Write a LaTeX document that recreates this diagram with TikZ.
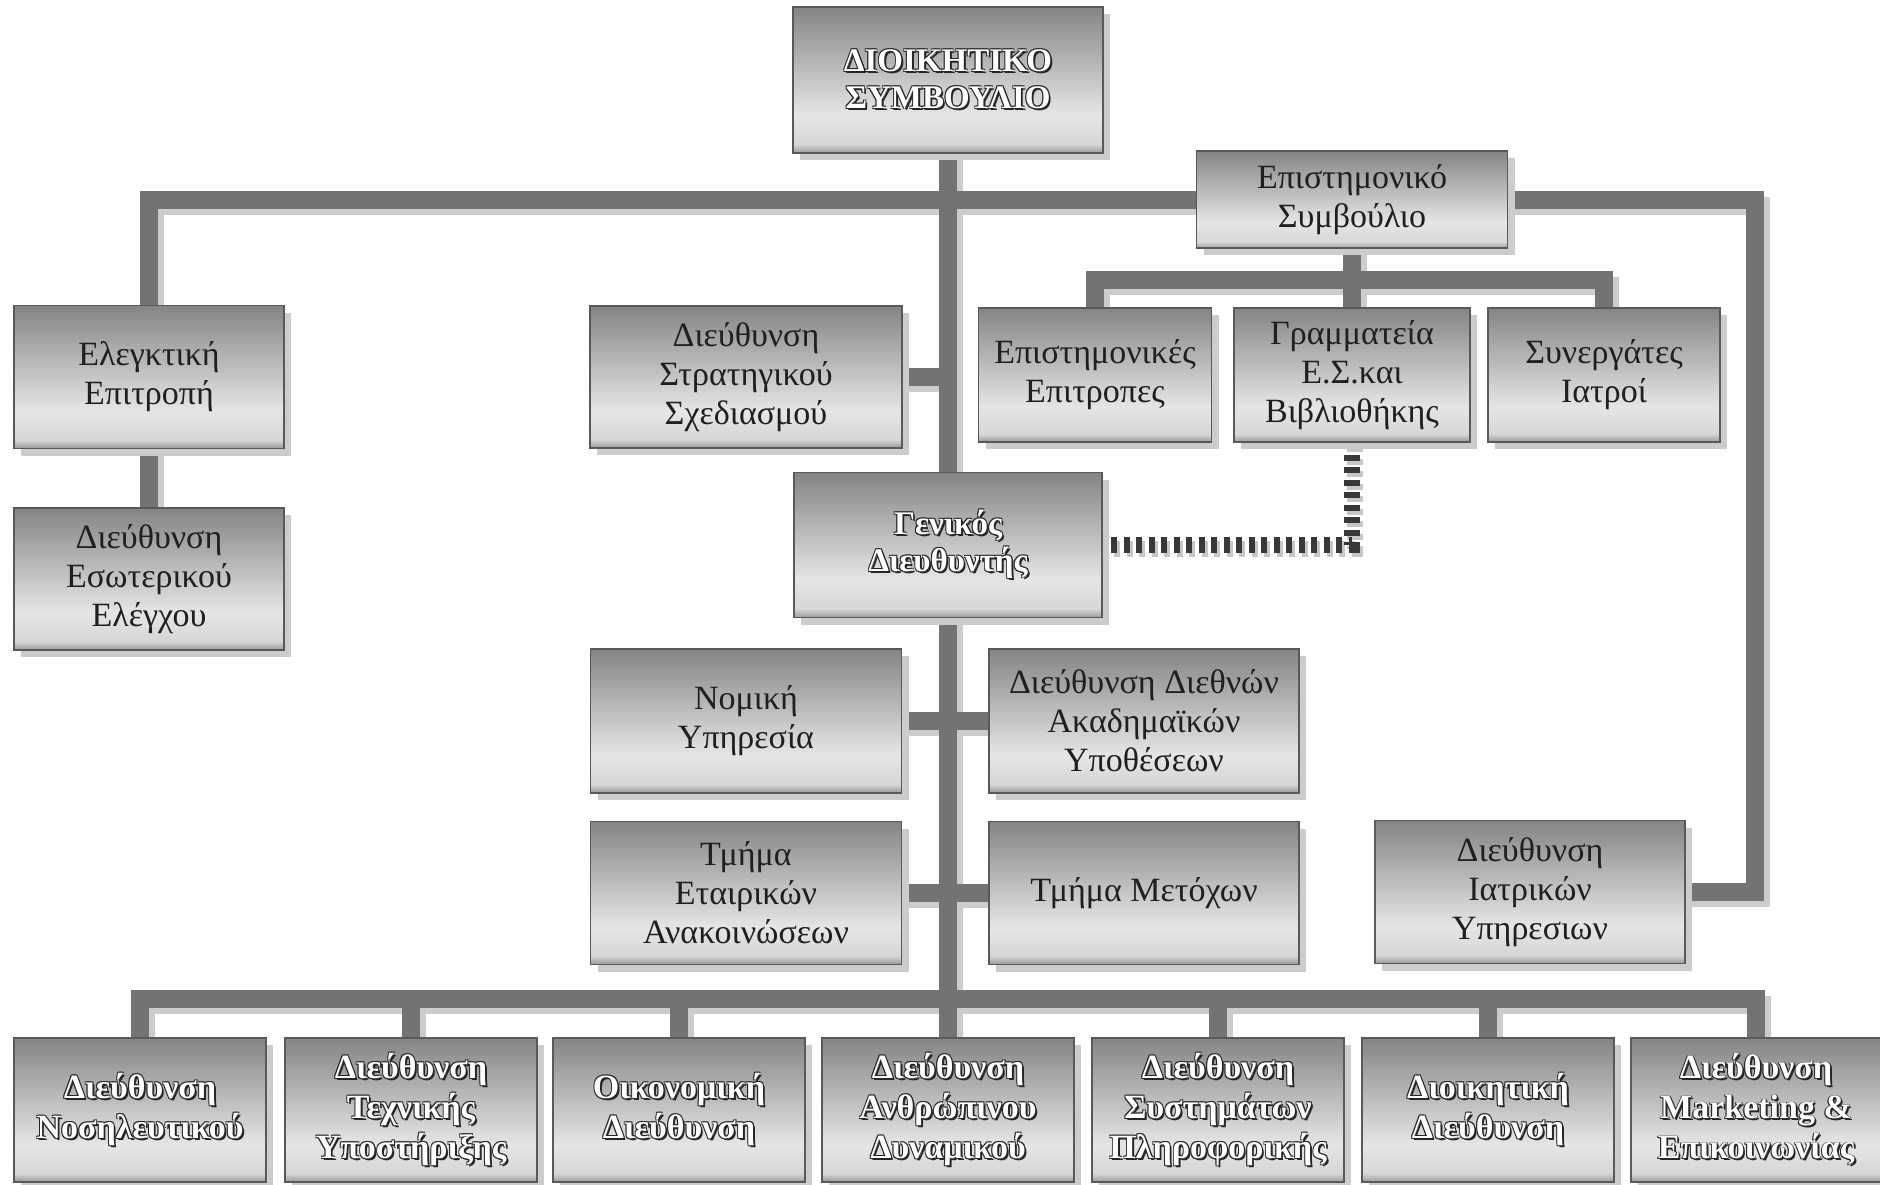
\documentclass[tikz,border=0pt]{standalone}
\usepackage{fontspec}
\setmainfont{Liberation Serif}
\usetikzlibrary{shadows}
\pgfdeclareverticalshading{boxsh}{100bp}{color(0bp)=(black!40); color(25bp)=(black!40); color(28bp)=(black!16); color(38bp)=(black!10); color(75bp)=(black!48); color(100bp)=(black!48)}
\newcommand{\embx}[1]{\leavevmode\rlap{\color{black!85}\kern1.9pt\raisebox{-1.9pt}{#1}}\rlap{\color{black!85}\kern-0.9pt\raisebox{0.9pt}{#1}}\rlap{\color{black!85}\kern0.9pt\raisebox{0.9pt}{#1}}\rlap{\color{black!85}\kern-0.9pt\raisebox{-0.9pt}{#1}}{\color{white}#1}}
\tikzset{
  box/.style={draw=black!65, line width=1.6pt, shade, shading=boxsh,
    drop shadow={shadow xshift=7pt, shadow yshift=-7pt, fill=black!20, opacity=1},
    inner sep=0pt, align=center, text=black!88,
    font=\fontsize{34}{39}\selectfont},
  bbox/.style={box, font=\bfseries\fontsize{33}{37}\selectfont},
  bboxlow/.style={box, font=\bfseries\fontsize{34}{40}\selectfont},
  conn/.style={line width=18pt, draw=black!55},
  connsh/.style={line width=18pt, draw=black!20, transform canvas={xshift=6pt,yshift=-6pt}},
  dotconn/.style={line width=16pt, draw=black!78, dash pattern=on 6pt off 6.5pt},
  dotconnsh/.style={line width=16pt, draw=black!22, dash pattern=on 6pt off 6.5pt, transform canvas={xshift=3pt,yshift=-4pt}},
  anchorbox/.style={inner sep=0pt},
}
\newcommand{\allconns}[1]{%
  \draw[#1] (dsb.south) -- (gd.north);
  \draw[#1] (gd.south) -- (b4.north);
  \draw[#1] (elegk.north) |- (epist.west);
  \draw[#1] (elegk.south) -- (esot.north);
  \draw[#1] (epist.east) -- (loopc) |- (iatr.east);
  \draw[#1] (epist.south) -- (gram.north);
  \draw[#1] (epit.north) |- (subY) -| (syn.north);
  \draw[#1] (strat.east) -- (strat.east -| gd.north);
  \draw[#1] (nom.east) -- (dieth.west);
  \draw[#1] (etair.east) -- (meto.west);
  \draw[#1] (b1.north) |- (b7.north |- barY) -- (b7.north);
  \draw[#1] (b2.north) -- (b2.north |- barY);
  \draw[#1] (b3.north) -- (b3.north |- barY);
  \draw[#1] (b5.north) -- (b5.north |- barY);
  \draw[#1] (b6.north) -- (b6.north |- barY);
}
\begin{document}
\begin{tikzpicture}[x=1pt,y=-1pt]
\useasboundingbox (0,0) rectangle (1880,1184);
\fill[white] (0,0) rectangle (1880,1184);
\coordinate (loopc) at (1755,199.5);
\coordinate (subY) at (1352,280);
\coordinate (barY) at (948,999);
% box frames (named) so connectors can be drawn beneath the boxes
\path (948,80) node[anchorbox, minimum width=310pt, minimum height=146pt] (dsb) {};
\path (1352,199.5) node[anchorbox, minimum width=311pt, minimum height=97pt] (epist) {};
\path (149,377) node[anchorbox, minimum width=270pt, minimum height=143pt] (elegk) {};
\path (149,579) node[anchorbox, minimum width=270pt, minimum height=142pt] (esot) {};
\path (746,377) node[anchorbox, minimum width=312pt, minimum height=142pt] (strat) {};
\path (1095,375) node[anchorbox, minimum width=233pt, minimum height=134pt] (epit) {};
\path (1352,375) node[anchorbox, minimum width=236pt, minimum height=134pt] (gram) {};
\path (1604,375) node[anchorbox, minimum width=232pt, minimum height=134pt] (syn) {};
\path (948,545) node[anchorbox, minimum width=308pt, minimum height=145pt] (gd) {};
\path (746,721) node[anchorbox, minimum width=311pt, minimum height=144pt] (nom) {};
\path (1144,721) node[anchorbox, minimum width=310pt, minimum height=144pt] (dieth) {};
\path (746,893) node[anchorbox, minimum width=311pt, minimum height=143pt] (etair) {};
\path (1144,893) node[anchorbox, minimum width=310pt, minimum height=143pt] (meto) {};
\path (1530,892) node[anchorbox, minimum width=310pt, minimum height=143pt] (iatr) {};
\path (140,1110) node[anchorbox, minimum width=252pt, minimum height=144pt] (b1) {};
\path (411,1110) node[anchorbox, minimum width=252pt, minimum height=144pt] (b2) {};
\path (679,1110) node[anchorbox, minimum width=252pt, minimum height=144pt] (b3) {};
\path (948,1110) node[anchorbox, minimum width=252pt, minimum height=144pt] (b4) {};
\path (1218,1110) node[anchorbox, minimum width=252pt, minimum height=144pt] (b5) {};
\path (1488,1110) node[anchorbox, minimum width=252pt, minimum height=144pt] (b6) {};
\path (1756,1110) node[anchorbox, minimum width=250pt, minimum height=144pt] (b7) {};
% connectors: shadows, then bars
\allconns{connsh}
\draw[dotconnsh] (gram.south) |- (gd.east);
\allconns{conn}
\draw[dotconn] (gram.south) |- (gd.east);
% boxes
\node[bbox, minimum width=310pt, minimum height=146pt] at (dsb) {\embx{ΔΙΟΙΚΗΤΙΚΟ}\\\embx{ΣΥΜΒΟΥΛΙΟ}};
\node[box, minimum width=311pt, minimum height=97pt] at (epist) {Επιστημονικό\\Συμβούλιο};
\node[box, minimum width=270pt, minimum height=143pt] at (elegk) {Ελεγκτική\\Επιτροπή};
\node[box, minimum width=270pt, minimum height=142pt] at (esot) {Διεύθυνση\\Εσωτερικού\\Ελέγχου};
\node[box, minimum width=312pt, minimum height=142pt] at (strat) {Διεύθυνση\\Στρατηγικού\\Σχεδιασμού};
\node[box, minimum width=233pt, minimum height=134pt] at (epit) {Επιστημονικές\\Επιτροπες};
\node[box, minimum width=236pt, minimum height=134pt] at (gram) {Γραμματεία\\Ε.Σ.και\\Βιβλιοθήκης};
\node[box, minimum width=232pt, minimum height=134pt] at (syn) {Συνεργάτες\\Ιατροί};
\node[bbox, minimum width=308pt, minimum height=145pt] at (gd) {\embx{Γενικός}\\\embx{Διευθυντής}};
\node[box, minimum width=311pt, minimum height=144pt] at (nom) {Νομική\\Υπηρεσία};
\node[box, minimum width=310pt, minimum height=144pt] at (dieth) {Διεύθυνση Διεθνών\\Ακαδημαϊκών\\Υποθέσεων};
\node[box, minimum width=311pt, minimum height=143pt] at (etair) {Τμήμα\\Εταιρικών\\Ανακοινώσεων};
\node[box, minimum width=310pt, minimum height=143pt] at (meto) {Τμήμα Μετόχων};
\node[box, minimum width=310pt, minimum height=143pt] at (iatr) {Διεύθυνση\\Ιατρικών\\Υπηρεσιων};
\node[bboxlow, minimum width=252pt, minimum height=144pt] at (b1) {\embx{Διεύθυνση}\\\embx{Νοσηλευτικού}};
\node[bboxlow, minimum width=252pt, minimum height=144pt] at (b2) {\embx{Διεύθυνση}\\\embx{Τεχνικής}\\\embx{Υποστήριξης}};
\node[bboxlow, minimum width=252pt, minimum height=144pt] at (b3) {\embx{Οικονομική}\\\embx{Διεύθυνση}};
\node[bboxlow, minimum width=252pt, minimum height=144pt] at (b4) {\embx{Διεύθυνση}\\\embx{Ανθρώπινου}\\\embx{Δυναμικού}};
\node[bboxlow, minimum width=252pt, minimum height=144pt] at (b5) {\embx{Διεύθυνση}\\\embx{Συστημάτων}\\\embx{Πληροφορικής}};
\node[bboxlow, minimum width=252pt, minimum height=144pt] at (b6) {\embx{Διοικητική}\\\embx{Διεύθυνση}};
\node[bboxlow, minimum width=250pt, minimum height=144pt] at (b7) {\embx{Διεύθυνση}\\\embx{Marketing \&}\\\embx{Επικοινωνίας}};
\end{tikzpicture}
\end{document}
